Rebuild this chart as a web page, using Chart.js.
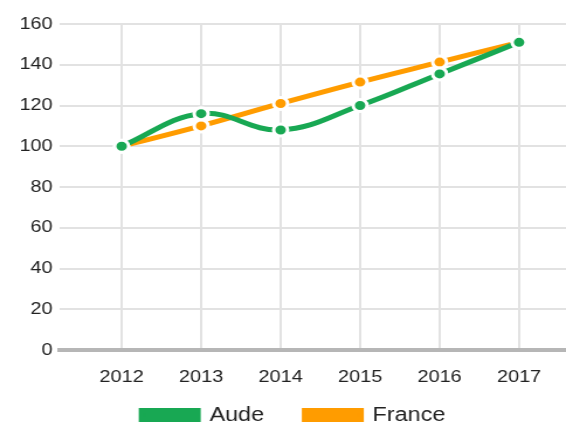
<!DOCTYPE html>
<html>
<head>
<meta charset="utf-8">
<script src="https://cdn.jsdelivr.net/npm/chart.js@4"></script>
<style>
  html, body { margin: 0; padding: 0; background: #fff; overflow: hidden; }
  /* chart is drawn narrow and widened to the page, like the original export */
  #wrap { width: 484px; height: 426px; transform: scaleX(1.1694); transform-origin: 0 0; }
</style>
</head>
<body>
<div id="wrap"><canvas id="chart"></canvas></div>
<script>
const years = [2012, 2013, 2014, 2015, 2016, 2017];
const aude = [100, 116, 108, 120, 135.5, 151];
const france = [100, 110, 121, 131.5, 141.3, 151];

const green = '#18a853';
const orange = '#ff9c00';
const font = "'Liberation Sans', Arial, sans-serif";

const toPoints = vals => vals.map((v, i) => ({ x: years[i], y: v }));

const lineStyle = color => ({
  borderColor: color,
  backgroundColor: color,
  pointBackgroundColor: color,
  pointBorderColor: '#fff',
  borderWidth: 5,
  pointRadius: 6,
  pointBorderWidth: 3,
  tension: 0.4
});

// wider gap between legend entries without growing the legend height
const legendGap = [5, 0];
const defaultLabels = Chart.defaults.plugins.legend.labels.generateLabels;

new Chart(document.getElementById('chart'), {
  type: 'line',
  data: {
    datasets: [
      { label: 'Aude', data: toPoints(aude), ...lineStyle(green) },
      { label: 'France', data: toPoints(france), ...lineStyle(orange) }
    ]
  },
  options: {
    responsive: true,
    maintainAspectRatio: false,
    animation: false,
    // left padding nudges the centred legend right; the y axis is narrowed to match
    layout: { autoPadding: false, padding: { top: 24, right: 0, left: 18, bottom: 0 } },
    plugins: {
      tooltip: { enabled: false },
      legend: {
        position: 'bottom',
        maxHeight: 28,
        labels: {
          boxWidth: 48,
          boxHeight: 9,
          padding: 7,
          color: '#222',
          font: { family: font, size: 20 },
          generateLabels: chart => defaultLabels(chart).map((item, i) => {
            item.text += '\u00a0'.repeat(legendGap[i]);
            return item;
          })
        }
      }
    },
    scales: {
      x: {
        type: 'linear',
        min: 2011.22,
        max: 2017.59,
        afterFit: s => { s.height = 48; s.paddingRight = 0; },
        grid: { color: '#e2e2e2', lineWidth: 2, drawTicks: false },
        border: { display: true, color: '#b6b6b6', width: 4 },
        ticks: {
          stepSize: 1,
          includeBounds: false,
          padding: 17,
          color: '#222',
          font: { family: font, size: 17 },
          callback: v => String(v)
        }
      },
      y: {
        min: 0,
        max: 160,
        afterFit: s => { s.width = 33; },
        grid: { color: '#e2e2e2', lineWidth: 2, drawTicks: false },
        border: { display: false },
        ticks: {
          stepSize: 20,
          padding: 6,
          color: '#222',
          font: { family: font, size: 17 }
        }
      }
    }
  }
});
</script>
</body>
</html>
